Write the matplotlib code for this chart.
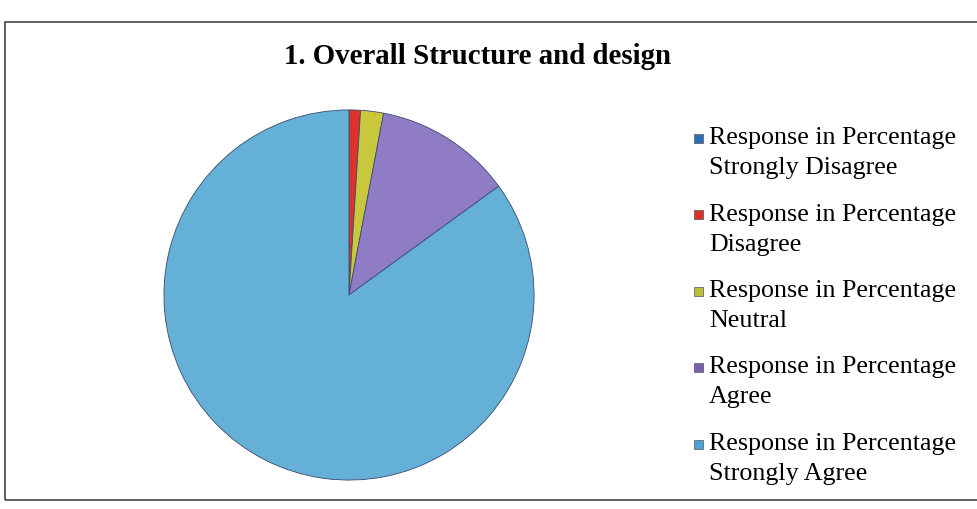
import matplotlib.pyplot as plt
from matplotlib.patches import Rectangle

plt.rcParams['font.family'] = ['Liberation Serif', 'DejaVu Serif']

categories = ['Strongly Disagree', 'Disagree', 'Neutral', 'Agree', 'Strongly Agree']
values = [0, 1, 2, 12, 85]
colors = ['#2f6fba', '#e0322b', '#c9c83c', '#8f7cc4', '#64b0d6']
legend_colors = ['#2f6fba', '#d8302a', '#bdbd3a', '#7a5fb0', '#4aa3d2']
title = '1. Overall Structure and design'

W, H = 978, 509
fig = plt.figure(figsize=(W / 100, H / 100), dpi=100)

# pie axes, centre ~ (349, 295) px, radius ~ 186 px
cx, cy, r = 349, 295, 186
ax = fig.add_axes([(cx - r) / W, (H - cy - r) / H, 2 * r / W, 2 * r / H])
ax.pie(values, colors=colors, startangle=90, counterclock=False,
       wedgeprops=dict(edgecolor='#3a4a70', linewidth=0.6))
ax.set_xlim(-1.005, 1.005)
ax.set_ylim(-1.005, 1.005)
ax.set_aspect('equal')

fig.text(478 / W, 1 - 57 / H, title, ha='center', va='center',
         fontsize=20.8, fontweight='bold')

# legend drawn by hand so the marker lines up with the first text line
y0, step = 138, 76.5
for i, (cat, col) in enumerate(zip(categories, legend_colors)):
    y = y0 + i * step
    fig.patches.append(Rectangle((694 / W, 1 - (y + 4.5) / H), 9 / W, 9 / H,
                                 transform=fig.transFigure, facecolor=col,
                                 edgecolor='#555555', linewidth=0.5))
    fig.text(709 / W, 1 - y / H, 'Response in Percentage', ha='left',
             va='center', fontsize=18.7)
    fig.text(709 / W, 1 - (y + 30) / H, cat, ha='left', va='center',
             fontsize=18.7)

# outer frame of the chart area
fig.patches.append(Rectangle((5 / W, 1 - 500 / H), 980 / W, 478 / H,
                             transform=fig.transFigure, fill=False,
                             edgecolor='#444444', linewidth=1.2))

fig.savefig('out.png', dpi=100)
